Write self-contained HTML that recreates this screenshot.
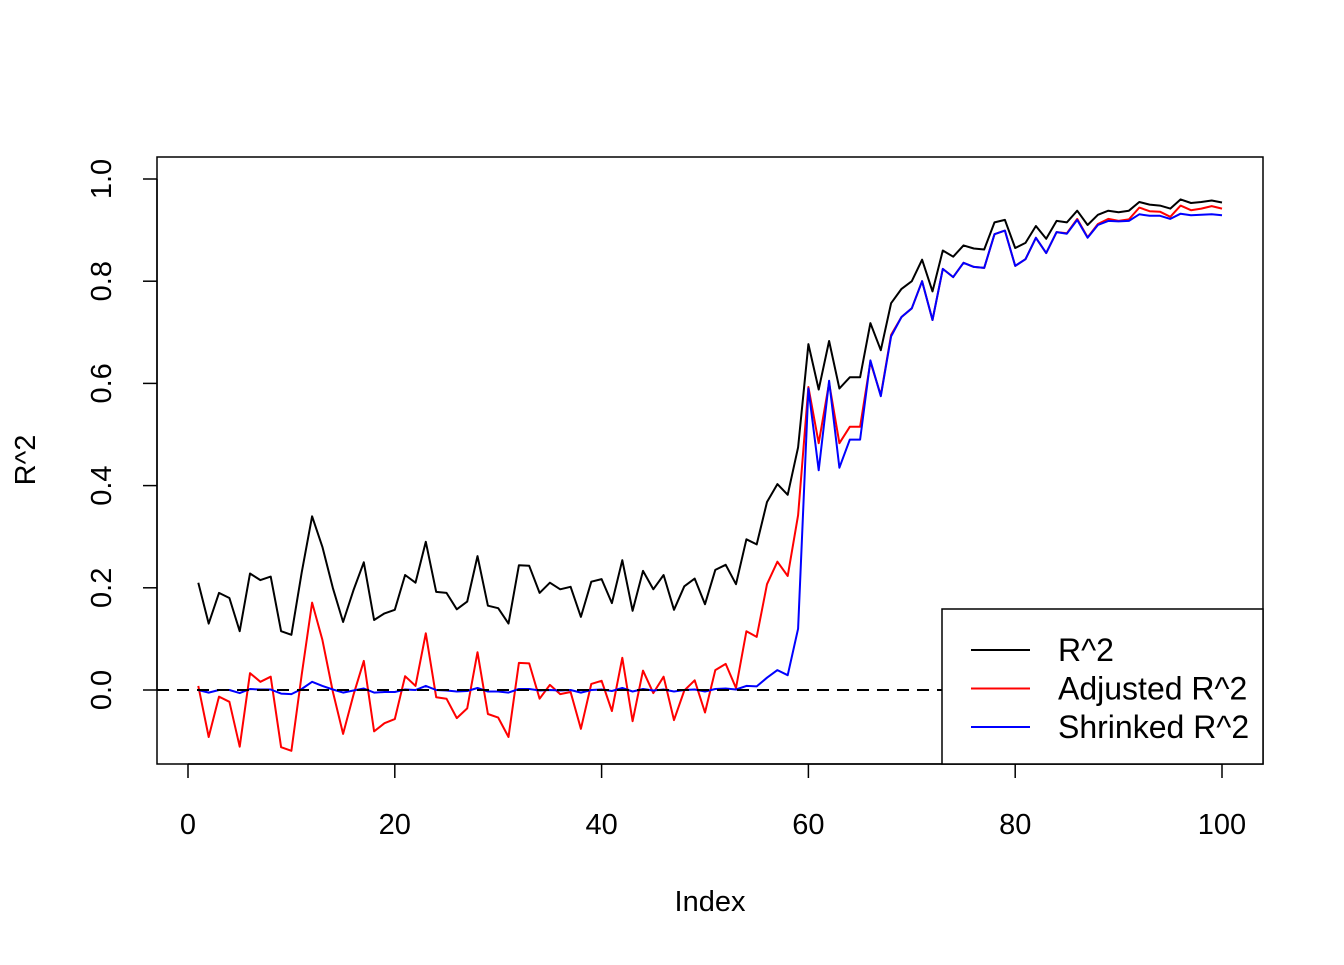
<!DOCTYPE html>
<html><head><meta charset="utf-8"><style>
html,body{margin:0;padding:0;background:#fff;}
svg text{font-family:"Liberation Sans",Arial,sans-serif;fill:#000;}
</style></head><body>
<svg id="chart" width="1344" height="960" xmlns="http://www.w3.org/2000/svg"></svg>
<script>
const indexValues = Array.from({length:100},(_,i)=>i+1);
const r2Values = [0.21,0.13,0.19,0.18,0.115,0.228,0.215,0.222,0.115,0.108,0.23,0.34,0.28,0.2,0.133,0.195,0.25,0.137,0.15,0.157,0.225,0.21,0.29,0.192,0.19,0.158,0.173,0.262,0.165,0.16,0.13,0.244,0.243,0.19,0.21,0.197,0.202,0.143,0.212,0.217,0.17,0.254,0.155,0.233,0.197,0.225,0.157,0.203,0.218,0.168,0.235,0.245,0.207,0.295,0.285,0.368,0.403,0.382,0.475,0.677,0.588,0.683,0.59,0.612,0.612,0.718,0.665,0.757,0.785,0.8,0.842,0.78,0.86,0.848,0.87,0.864,0.862,0.915,0.92,0.865,0.875,0.908,0.883,0.918,0.915,0.938,0.91,0.93,0.938,0.935,0.938,0.955,0.95,0.948,0.942,0.96,0.953,0.955,0.958,0.954];
const adjR2Values = [0.008,-0.092,-0.013,-0.023,-0.111,0.033,0.016,0.026,-0.112,-0.119,0.03,0.171,0.098,-0.003,-0.086,-0.01,0.057,-0.081,-0.065,-0.057,0.027,0.008,0.111,-0.014,-0.017,-0.055,-0.036,0.074,-0.047,-0.054,-0.092,0.053,0.052,-0.017,0.01,-0.008,-0.004,-0.076,0.012,0.018,-0.041,0.063,-0.061,0.038,-0.006,0.026,-0.059,-0.001,0.019,-0.044,0.039,0.051,0.004,0.115,0.104,0.207,0.251,0.223,0.342,0.593,0.483,0.601,0.483,0.515,0.515,0.642,0.577,0.695,0.73,0.747,0.8,0.724,0.824,0.808,0.836,0.828,0.826,0.892,0.899,0.83,0.843,0.885,0.855,0.896,0.894,0.922,0.886,0.912,0.922,0.918,0.921,0.944,0.937,0.936,0.926,0.948,0.939,0.942,0.947,0.942];
const shrR2Values = [0,-0.005,0,0,-0.006,0.002,0.001,0.001,-0.007,-0.008,0.002,0.016,0.008,0.001,-0.005,-0.001,0.003,-0.005,-0.004,-0.004,0.001,0,0.008,0,-0.001,-0.003,-0.002,0.004,-0.003,-0.003,-0.005,0.002,0.002,-0.001,0,-0.001,0,-0.005,0,0.001,-0.002,0.004,-0.003,0.002,-0.001,0.001,-0.003,0,0.001,-0.003,0.002,0.003,0.001,0.008,0.007,0.024,0.039,0.029,0.12,0.59,0.43,0.605,0.435,0.49,0.49,0.645,0.575,0.692,0.73,0.747,0.8,0.724,0.824,0.808,0.836,0.828,0.826,0.892,0.899,0.83,0.843,0.885,0.855,0.896,0.893,0.92,0.885,0.91,0.918,0.917,0.918,0.931,0.928,0.928,0.922,0.932,0.929,0.93,0.931,0.929];
const xTicks = [0,20,40,60,80,100];
const yTicks = [0.0,0.2,0.4,0.6,0.8,1.0];
const yTickLabels = ["0.0","0.2","0.4","0.6","0.8","1.0"];
const legendLabels = ["R^2","Adjusted R^2","Shrinked R^2"];
const legendColors = ["#000000","#ff0000","#0000ff"];

const NS="http://www.w3.org/2000/svg";
const svg=document.getElementById('chart');
const X=v=>188+(v-0)*10.34;
const Y=v=>690-v*511;
function mk(tag,attrs,parent){const e=document.createElementNS(NS,tag);for(const k in attrs)e.setAttribute(k,attrs[k]);(parent||svg).appendChild(e);return e;}

const box=mk('rect',{x:157,y:157,width:1106,height:607,fill:'none',stroke:'#000','stroke-width':1.5});



const xaxis=mk('g',{});


mk('line',{x1:X(0),x2:X(100),y1:764,y2:764,stroke:'#000','stroke-width':1.5},xaxis);
xTicks.forEach(t=>{
  mk('line',{x1:X(t),x2:X(t),y1:764,y2:778,stroke:'#000','stroke-width':1.5},xaxis);
  const tx=mk('text',{x:X(t),y:834,'font-size':29,'text-anchor':'middle'},xaxis);
  tx.textContent=t;
  
  
});
const yaxis=mk('g',{});


mk('line',{x1:157,x2:157,y1:Y(0),y2:Y(1),stroke:'#000','stroke-width':1.5},yaxis);
yTicks.forEach((t,i)=>{
  mk('line',{x1:143,x2:157,y1:Y(t),y2:Y(t),stroke:'#000','stroke-width':1.5},yaxis);
  const tx=mk('text',{x:0,y:0,'font-size':29,'text-anchor':'middle',transform:`translate(111,${Y(t)}) rotate(-90)`},yaxis);
  tx.textContent=yTickLabels[i];
  
  
});
const xl=mk('text',{x:710,y:911,'font-size':29,'text-anchor':'middle'});
xl.textContent='Index';


const yl=mk('text',{x:0,y:0,'font-size':29,'text-anchor':'middle',transform:'translate(35,460) rotate(-90)'});
yl.textContent='R^2';



function series(vals,color,name){
  const d=vals.map((v,i)=>(i?'L':'M')+X(indexValues[i]).toFixed(1)+','+Y(v).toFixed(1)).join('');
  const p=mk('path',{d:d,fill:'none',stroke:color,'stroke-width':2,'stroke-linejoin':'round'});
  
  
}
series(r2Values,'#000','r2-line');
series(adjR2Values,'#ff0000','adjusted-r2-line');
series(shrR2Values,'#0000ff','shrinked-r2-line');

const zl=mk('line',{x1:157,x2:1263,y1:Y(0),y2:Y(0),stroke:'#000','stroke-width':2,'stroke-dasharray':'12,8'});



const lg=mk('g',{});


mk('rect',{x:942,y:609,width:321,height:155,fill:'#fff',stroke:'#000','stroke-width':1.5},lg);
legendLabels.forEach((lab,i)=>{
  const y=650+i*38.5;
  const g=mk('g',{},lg);
  
  
  mk('line',{x1:971,x2:1030,y1:y,y2:y,stroke:legendColors[i],'stroke-width':2},g);
  const t=mk('text',{x:1058,y:y+11,'font-size':32},g);
  t.textContent=lab;
});
</script>
</body></html>
